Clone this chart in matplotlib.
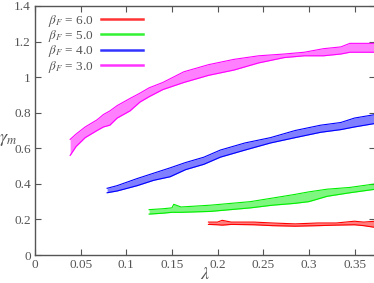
import matplotlib
matplotlib.use("Agg")
import matplotlib.pyplot as plt
from matplotlib.ticker import FormatStrFormatter

# beta_F = 3.0 (magenta)
lam_b3 = [0.0385, 0.045, 0.055, 0.068, 0.075, 0.082, 0.09, 0.104, 0.115, 0.125, 0.14,
          0.163, 0.19, 0.218, 0.245, 0.273, 0.295, 0.316, 0.335, 0.345, 0.354, 0.373]
hi_b3 = [0.65, 0.68, 0.72, 0.76, 0.79, 0.81, 0.84, 0.88, 0.91, 0.94, 0.97,
         1.03, 1.07, 1.10, 1.12, 1.13, 1.14, 1.16, 1.17, 1.19, 1.19, 1.19]
lo_b3 = [0.56, 0.61, 0.66, 0.70, 0.72, 0.73, 0.77, 0.81, 0.86, 0.89, 0.93,
         0.97, 1.01, 1.04, 1.08, 1.11, 1.12, 1.12, 1.13, 1.14, 1.14, 1.14]

# beta_F = 4.0 (blue)
lam_b4 = [0.079, 0.09, 0.112, 0.13, 0.148, 0.165, 0.185, 0.203, 0.23, 0.258, 0.285,
          0.313, 0.335, 0.35, 0.373]
hi_b4 = [0.375, 0.39, 0.43, 0.46, 0.49, 0.52, 0.55, 0.59, 0.63, 0.66, 0.70,
         0.73, 0.745, 0.77, 0.79]
lo_b4 = [0.35, 0.36, 0.39, 0.42, 0.44, 0.48, 0.51, 0.55, 0.59, 0.63, 0.66,
         0.69, 0.705, 0.72, 0.74]

# beta_F = 5.0 (green)
lam_b5 = [0.125, 0.14, 0.15, 0.152, 0.16, 0.192, 0.236, 0.26, 0.284, 0.30, 0.32, 0.345, 0.373]
hi_b5 = [0.255, 0.26, 0.265, 0.285, 0.27, 0.28, 0.30, 0.32, 0.34, 0.355, 0.37, 0.38, 0.40]
lo_b5 = [0.23, 0.235, 0.24, 0.24, 0.24, 0.245, 0.265, 0.28, 0.29, 0.30, 0.33, 0.35, 0.37]

# beta_F = 6.0 (red)
lam_b6 = [0.19, 0.2, 0.205, 0.215, 0.24, 0.26, 0.285, 0.31, 0.33, 0.35, 0.36, 0.373]
hi_b6 = [0.185, 0.185, 0.195, 0.185, 0.185, 0.18, 0.175, 0.18, 0.18, 0.19, 0.185, 0.19]
lo_b6 = [0.172, 0.17, 0.168, 0.172, 0.17, 0.165, 0.162, 0.165, 0.168, 0.17, 0.165, 0.155]

labels = ["6.0", "5.0", "4.0", "3.0"]
colors = ["#ff0000", "#00ee00", "#0000ff", "#ff00ff"]

grey = "#555555"
plt.rcParams["font.family"] = "serif"
plt.rcParams["font.serif"] = ["Liberation Serif", "DejaVu Serif"]
plt.rcParams["mathtext.fontset"] = "stix"

fig = plt.figure(figsize=(3.74, 2.83), dpi=100)
ax = fig.add_axes([35 / 374, 28 / 283, 1.004 - 35 / 374, 249 / 283])

series = [(lam_b6, lo_b6, hi_b6), (lam_b5, lo_b5, hi_b5),
          (lam_b4, lo_b4, hi_b4), (lam_b3, lo_b3, hi_b3)]

for (x, lo, hi), lab, c in zip(series, labels, colors):
    ax.fill_between(x, lo, hi, color=c, alpha=0.5, lw=0)
    ax.plot(x, lo, color=c, lw=0.8)
    ax.plot(x, hi, color=c, lw=0.8)
    ax.plot([], [], color=c, lw=1.8, alpha=0.8, label=r"$\beta_F$ = " + lab)

ax.set_xlim(0, 0.373)
ax.set_ylim(0, 1.4)
ax.set_xticks([0, 0.05, 0.1, 0.15, 0.2, 0.25, 0.3, 0.35])
ax.set_yticks([0, 0.2, 0.4, 0.6, 0.8, 1.0, 1.2, 1.4])
ax.xaxis.set_major_formatter(FormatStrFormatter("%g"))
ax.yaxis.set_major_formatter(FormatStrFormatter("%g"))
ax.tick_params(direction="in", top=True, right=True, length=4, width=0.8,
               colors=grey, labelsize=9.5, pad=3)
for s in ax.spines.values():
    s.set_color(grey)
    s.set_linewidth(1.0)

ax.set_xlabel(r"$\lambda$", fontsize=13, color=grey, labelpad=-4)
ax.set_ylabel(r"$\gamma_m$", fontsize=13, color=grey, rotation=0)
ax.yaxis.set_label_coords(-0.08, 0.43)

leg = ax.legend(loc="upper left", frameon=False, markerfirst=False, fontsize=9.5,
                handlelength=3.2, labelspacing=-0.05, borderaxespad=0.1,
                handletextpad=0.5, bbox_to_anchor=(0.02, 1.0))
for t in leg.get_texts():
    t.set_color(grey)

fig.savefig("out.png", dpi=100)
